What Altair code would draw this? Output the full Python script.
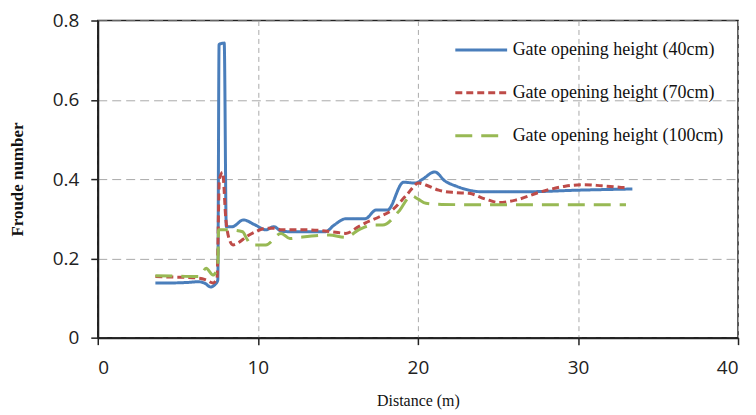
import altair as alt
import pandas as pd

series = [
    "Gate opening height (40cm)",
    "Gate opening height (70cm)",
    "Gate opening height (100cm)",
]
colors = ["#4a7ebb", "#be4b48", "#98b954"]
dashes = [[1, 0], [7, 4], [17, 9]]

x_ticks = [0, 10, 20, 30, 40]
y_ticks = [0, 0.2, 0.4, 0.6, 0.8]

blue_x = [3.6, 4.5, 5.5, 6.3, 6.7, 7.05, 7.35, 7.5, 7.58, 7.9, 8.03, 8.4, 9.1, 9.8,
          10.5, 11.0, 11.5, 12.5, 14.2, 14.8, 15.5, 16.7, 17.4, 18.1, 19.1, 19.85,
          20.3, 21.05, 21.7, 22.4, 23.2, 24.0, 26.7, 30.0, 33.4]
blue_y = [0.138, 0.138, 0.139, 0.141, 0.137, 0.128, 0.135, 0.145, 0.740, 0.743, 0.280,
          0.280, 0.297, 0.285, 0.272, 0.280, 0.268, 0.267, 0.267, 0.285, 0.300, 0.300,
          0.322, 0.322, 0.392, 0.390, 0.400, 0.418, 0.395, 0.382, 0.372, 0.368, 0.368,
          0.372, 0.375]

red_x = [3.6, 4.5, 5.5, 6.35, 6.8, 7.2, 7.45, 7.6, 7.8, 8.0, 8.2, 8.45, 8.8, 9.3, 9.9,
         10.5, 11.0, 11.5, 13.0, 14.0, 15.0, 15.5, 16.3, 16.7, 17.6, 18.4, 19.3, 20.05,
         20.5, 21.3, 22.3, 23.2, 24.2, 25.05, 26.1, 27.7, 29.2, 30.4, 31.5, 32.7, 33.0]
red_y = [0.154, 0.153, 0.152, 0.150, 0.145, 0.138, 0.150, 0.400, 0.417, 0.300, 0.250,
         0.234, 0.240, 0.255, 0.268, 0.276, 0.276, 0.272, 0.272, 0.270, 0.265, 0.263,
         0.280, 0.289, 0.305, 0.322, 0.360, 0.390, 0.385, 0.372, 0.366, 0.364, 0.350,
         0.341, 0.347, 0.368, 0.382, 0.386, 0.383, 0.379, 0.378]

green_x = [3.6, 5.0, 6.35, 6.77, 7.2, 7.5, 7.55, 8.2, 9.05, 9.3, 9.6, 10.5, 11.45, 12.0,
           12.6, 14.45, 15.5, 16.3, 17.2, 17.8, 18.8, 19.6, 20.0, 20.5, 21.5, 25.0, 33.0]
green_y = [0.156, 0.155, 0.154, 0.175, 0.158, 0.180, 0.272, 0.272, 0.267, 0.250, 0.234,
           0.234, 0.263, 0.250, 0.253, 0.259, 0.253, 0.272, 0.284, 0.284, 0.318, 0.358,
           0.350, 0.339, 0.336, 0.335, 0.335]

rows = []
for name, xs, ys in zip(series, [blue_x, red_x, green_x], [blue_y, red_y, green_y]):
    for i, (xv, yv) in enumerate(zip(xs, ys)):
        rows.append({"series": name, "distance": xv, "froude": yv, "order": i})
df = pd.DataFrame(rows)

legend_kw = dict(
    title=None,
    orient="none",
    legendX=357,
    legendY=2,
    padding=0,
    symbolType="stroke",
    symbolSize=2700,
    symbolStrokeWidth=3,
    labelFont="Liberation Serif",
    labelFontSize=18,
    labelColor="#111",
    labelLimit=400,
    labelOffset=4,
    rowPadding=6,
)

chart = alt.Chart(df).mark_line(interpolate="monotone", strokeWidth=3).encode(
    x=alt.X(
        "distance:Q",
        scale=alt.Scale(domain=[0, 40], nice=False),
        axis=alt.Axis(
            values=x_ticks,
            title="Distance (m)",
            titleFont="Liberation Serif",
            titleFontSize=16,
            titleFontWeight="normal",
            titleColor="#111",
            titlePadding=15,
            labelFont="Open Sans",
            labelFontSize=19,
            labelColor="#222",
            labelPadding=14,
            tickSize=7,
            tickColor="#222",
            tickWidth=1.5,
            domainColor="#222",
            domainWidth=2,
            gridDash=[5, 4],
            gridColor="#aaaaaa",
            gridWidth=1,
        ),
    ),
    y=alt.Y(
        "froude:Q",
        scale=alt.Scale(domain=[0, 0.8], nice=False),
        axis=alt.Axis(
            values=y_ticks,
            title="Froude number",
            titleFont="Liberation Serif",
            titleFontSize=17,
            titleFontWeight="bold",
            titleColor="#111",
            titlePadding=26,
            labelExpr="datum.value == 0 ? '0' : format(datum.value, '.1f')",
            labelFont="Open Sans",
            labelFontSize=19,
            labelColor="#222",
            labelPadding=12,
            tickSize=7,
            tickColor="#222",
            tickWidth=1.5,
            domainColor="#222",
            domainWidth=2,
            gridDash=[9, 5],
            gridColor="#aaaaaa",
            gridWidth=1,
        ),
    ),
    color=alt.Color("series:N", scale=alt.Scale(domain=series, range=colors),
                    legend=alt.Legend(**legend_kw)),
    strokeDash=alt.StrokeDash("series:N", scale=alt.Scale(domain=series, range=dashes),
                              legend=alt.Legend(**legend_kw)),
    order="order:Q",
).properties(
    width=642,
    height=318,
    autosize=alt.AutoSizeParams(type="none"),
    padding={"left": 90, "top": 12, "right": 10, "bottom": 75},
    background="white",
).configure_view(stroke="#222", strokeWidth=1.5)

chart.save("out.html", embed_options={"renderer": "svg", "actions": False})
